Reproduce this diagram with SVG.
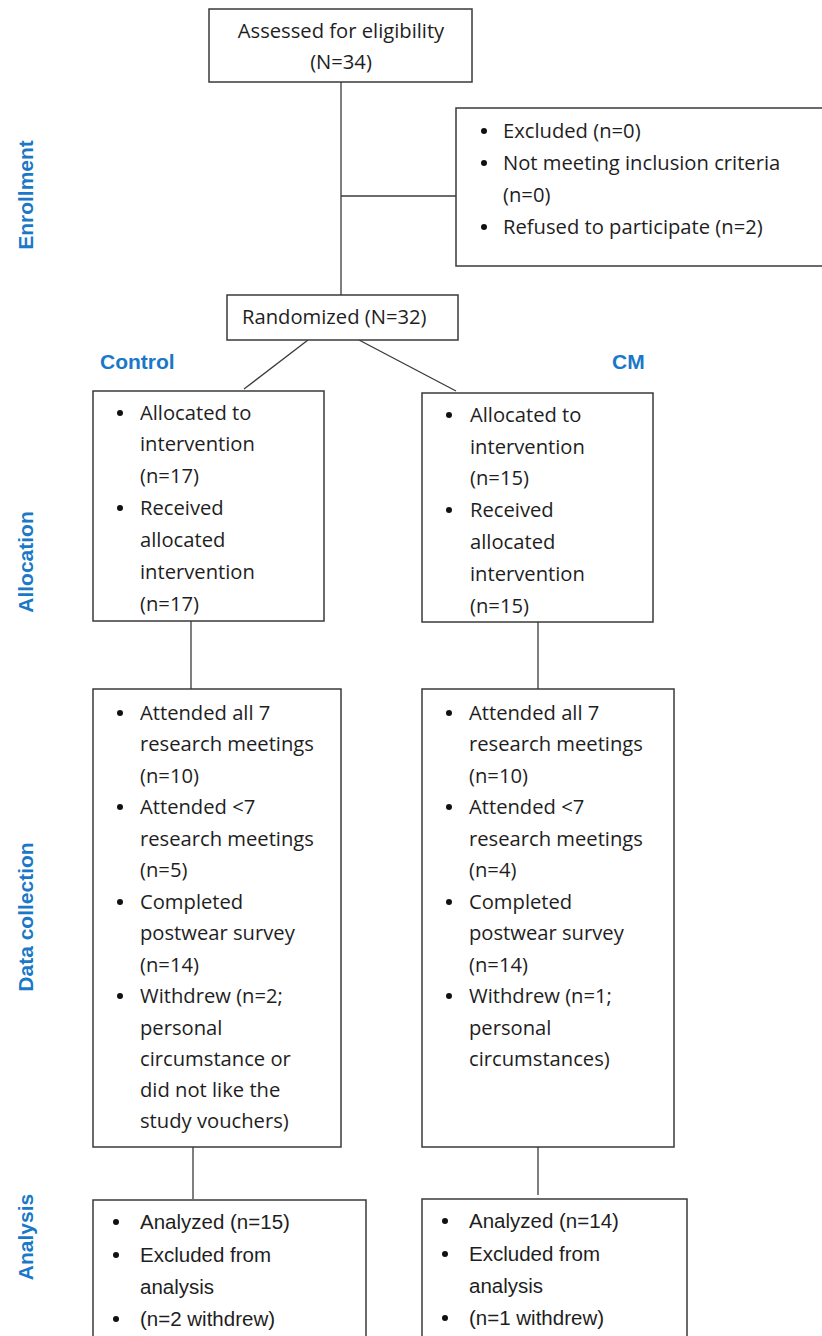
<svg xmlns="http://www.w3.org/2000/svg" width="822" height="1336" viewBox="0 0 822 1336">
<style>
.box{fill:#fff;stroke:#3a3a3a;stroke-width:1.5}
.ln{stroke:#3a3a3a;stroke-width:1.3;fill:none}
.t{font-family:"Open Sans","Noto Sans",sans-serif;font-size:20.2px;fill:#1e1e1e}
.n{font-family:"Liberation Sans",Arial,sans-serif;font-size:20.5px;fill:#1e1e1e}
.c{text-anchor:middle}
.lab{font-family:"Liberation Sans",Arial,sans-serif;font-size:21px;font-weight:bold;fill:#1a78c8}
.b{fill:#111}
</style>
<rect width="822" height="1336" fill="#fff"/>
<g id="connectors">
<line class="ln" x1="341" y1="82" x2="341" y2="295"/>
<line class="ln" x1="341" y1="196" x2="456" y2="196"/>
<line class="ln" x1="308" y1="340" x2="244" y2="389"/>
<line class="ln" x1="359" y1="340" x2="456" y2="391"/>
<line class="ln" x1="191" y1="621" x2="191" y2="689"/>
<line class="ln" x1="538" y1="622" x2="538" y2="689"/>
<line class="ln" x1="193" y1="1147" x2="193" y2="1199"/>
<line class="ln" x1="538" y1="1147" x2="538" y2="1195"/>
</g>
<g id="labels">
<text class="lab" transform="translate(33,195) rotate(-90)" text-anchor="middle">Enrollment</text>
<text class="lab" transform="translate(33,562) rotate(-90)" text-anchor="middle">Allocation</text>
<text class="lab" transform="translate(33,917) rotate(-90)" text-anchor="middle">Data collection</text>
<text class="lab" transform="translate(33,1237) rotate(-90)" text-anchor="middle">Analysis</text>
<text class="lab" x="100" y="369">Control</text>
<text class="lab" x="612" y="369">CM</text>
</g>
<g id="assessed">
<rect class="box" x="209" y="9" width="263" height="73"/>
<text class="t c" x="341" y="38">Assessed for eligibility</text>
<text class="t c" x="341" y="69">(N=34)</text>
</g>
<g id="excluded">
<rect class="box" x="456" y="108" width="370" height="158"/>
<circle class="b" cx="484" cy="131" r="3"/>
<circle class="b" cx="484" cy="163" r="3"/>
<circle class="b" cx="484" cy="227" r="3"/>
<text class="t" x="503" y="138">Excluded (n=0)</text>
<text class="t" x="503" y="170">Not meeting inclusion criteria</text>
<text class="t" x="503" y="202">(n=0)</text>
<text class="t" x="503" y="234">Refused to participate (n=2)</text>
</g>
<g id="randomized">
<rect class="box" x="227" y="295" width="231" height="45"/>
<text class="t" x="242" y="324">Randomized (N=32)</text>
</g>
<g id="alloc-control">
<rect class="box" x="93" y="391" width="231" height="230"/>
<circle class="b" cx="120" cy="413" r="3"/>
<circle class="b" cx="120" cy="508" r="3"/>
<text class="t" x="140" y="420">Allocated to</text>
<text class="t" x="140" y="451">intervention</text>
<text class="t" x="140" y="483">(n=17)</text>
<text class="t" x="140" y="515">Received</text>
<text class="t" x="140" y="547">allocated</text>
<text class="t" x="140" y="579">intervention</text>
<text class="t" x="140" y="611">(n=17)</text>
</g>
<g id="alloc-cm">
<rect class="box" x="422" y="393" width="231" height="229"/>
<circle class="b" cx="449" cy="415" r="3"/>
<circle class="b" cx="449" cy="510" r="3"/>
<text class="t" x="470" y="422">Allocated to</text>
<text class="t" x="470" y="454">intervention</text>
<text class="t" x="470" y="485">(n=15)</text>
<text class="t" x="470" y="517">Received</text>
<text class="t" x="470" y="549">allocated</text>
<text class="t" x="470" y="581">intervention</text>
<text class="t" x="470" y="613">(n=15)</text>
</g>
<g id="data-control">
<rect class="box" x="93" y="689" width="248" height="458"/>
<circle class="b" cx="120" cy="713" r="3"/>
<circle class="b" cx="120" cy="807" r="3"/>
<circle class="b" cx="120" cy="902" r="3"/>
<circle class="b" cx="120" cy="996" r="3"/>
<text class="t" x="140" y="720">Attended all 7</text>
<text class="t" x="140" y="751">research meetings</text>
<text class="t" x="140" y="783">(n=10)</text>
<text class="t" x="140" y="814">Attended &lt;7</text>
<text class="t" x="140" y="846">research meetings</text>
<text class="t" x="140" y="877">(n=5)</text>
<text class="t" x="140" y="909">Completed</text>
<text class="t" x="140" y="940">postwear survey</text>
<text class="t" x="140" y="972">(n=14)</text>
<text class="t" x="140" y="1003">Withdrew (n=2;</text>
<text class="t" x="140" y="1035">personal</text>
<text class="t" x="140" y="1066">circumstance or</text>
<text class="t" x="140" y="1097">did not like the</text>
<text class="t" x="140" y="1128">study vouchers)</text>
</g>
<g id="data-cm">
<rect class="box" x="422" y="689" width="252" height="458"/>
<circle class="b" cx="449" cy="713" r="3"/>
<circle class="b" cx="449" cy="807" r="3"/>
<circle class="b" cx="449" cy="902" r="3"/>
<circle class="b" cx="449" cy="996" r="3"/>
<text class="t" x="469" y="720">Attended all 7</text>
<text class="t" x="469" y="751">research meetings</text>
<text class="t" x="469" y="783">(n=10)</text>
<text class="t" x="469" y="814">Attended &lt;7</text>
<text class="t" x="469" y="846">research meetings</text>
<text class="t" x="469" y="877">(n=4)</text>
<text class="t" x="469" y="909">Completed</text>
<text class="t" x="469" y="940">postwear survey</text>
<text class="t" x="469" y="972">(n=14)</text>
<text class="t" x="469" y="1003">Withdrew (n=1;</text>
<text class="t" x="469" y="1035">personal</text>
<text class="t" x="469" y="1066">circumstances)</text>
</g>
<g id="analysis-control">
<rect class="box" x="93" y="1200" width="273" height="150"/>
<circle class="b" cx="116" cy="1222" r="3"/>
<circle class="b" cx="116" cy="1255" r="3"/>
<circle class="b" cx="116" cy="1319" r="3"/>
<text class="n" x="140" y="1229">Analyzed (n=15)</text>
<text class="n" x="140" y="1262">Excluded from</text>
<text class="n" x="140" y="1294">analysis</text>
<text class="n" x="140" y="1326">(n=2 withdrew)</text>
</g>
<g id="analysis-cm">
<rect class="box" x="422" y="1199" width="265" height="150"/>
<circle class="b" cx="445" cy="1221" r="3"/>
<circle class="b" cx="445" cy="1254" r="3"/>
<circle class="b" cx="445" cy="1318" r="3"/>
<text class="n" x="469" y="1228">Analyzed (n=14)</text>
<text class="n" x="469" y="1261">Excluded from</text>
<text class="n" x="469" y="1293">analysis</text>
<text class="n" x="469" y="1325">(n=1 withdrew)</text>
</g>
</svg>
